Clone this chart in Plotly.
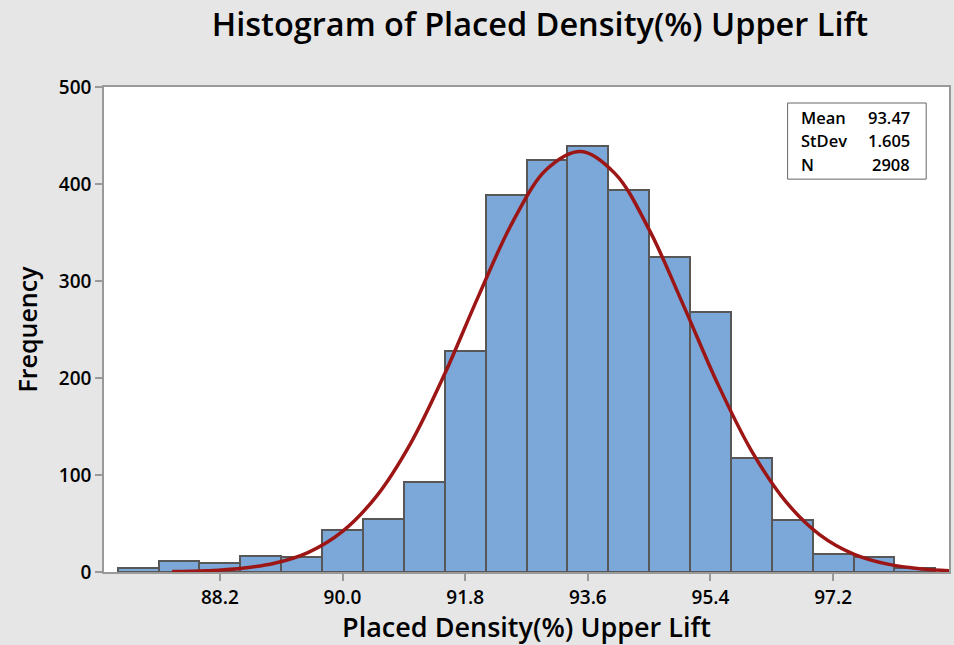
import plotly.graph_objects as go

# histogram bins (centres, width 0.6) and counts
bin_centers = [87.0, 87.6, 88.2, 88.8, 89.4, 90.0, 90.6, 91.2, 91.8, 92.4,
               93.0, 93.6, 94.2, 94.8, 95.4, 96.0, 96.6, 97.2, 97.8, 98.4]
counts = [4, 11, 9, 17, 15, 43, 55, 93, 228, 389,
          425, 439, 394, 325, 268, 118, 54, 19, 15, 4]

# fitted normal curve, read at 0.5 steps
curve_x = [87.5, 88.0, 88.5, 89.0, 89.5, 90.0, 90.5, 91.0, 91.5, 92.0, 92.5, 93.0,
           93.5, 94.0, 94.5, 95.0, 95.5, 96.0, 96.5, 97.0, 97.5, 98.0, 98.5, 99.0]
curve_y = [0.4, 1.3, 3.6, 9.0, 20.3, 41.9, 78.3, 132.7, 204.3, 285.2, 361.3, 415.5,
           433.6, 410.7, 352.9, 275.4, 194.9, 125.2, 73.0, 38.6, 18.5, 8.1, 3.2, 1.1]

x_ticks = [88.2, 90.0, 91.8, 93.6, 95.4, 97.2]
y_ticks = [0, 100, 200, 300, 400, 500]

stat_labels = ["Mean", "StDev", "N"]
stat_values = ["93.47", "1.605", "2908"]

font_family = "Open Sans, DejaVu Sans, sans-serif"

fig = go.Figure()
fig.add_trace(go.Bar(x=bin_centers, y=counts, width=0.6,
                     marker=dict(color="#7BA7D9", line=dict(color="#575757", width=2))))
fig.add_trace(go.Scatter(x=curve_x, y=curve_y, mode="lines",
                         line=dict(color="#9C1616", width=3.5, shape="spline")))

# stats box
fig.add_shape(type="rect", xref="paper", yref="paper",
              x0=0.809, x1=0.973, y0=0.810, y1=0.967,
              line=dict(color="#666666", width=1), fillcolor="white")
for i, (lab, val) in enumerate(zip(stat_labels, stat_values)):
    yy = 0.938 - i * 0.049
    fig.add_annotation(xref="paper", yref="paper", x=0.823, y=yy, text=lab,
                       showarrow=False, xanchor="left", yanchor="middle",
                       font=dict(family=font_family, size=16.5, color="black", weight=600))
    fig.add_annotation(xref="paper", yref="paper", x=0.956, y=yy, text=val,
                       showarrow=False, xanchor="right", yanchor="middle",
                       font=dict(family=font_family, size=16.5, color="black", weight=600))

fig.update_layout(
    width=954, height=645,
    margin=dict(l=104, r=3, t=87, b=73),
    paper_bgcolor="#E6E6E6",
    plot_bgcolor="white",
    showlegend=False,
    bargap=0,
    title=dict(text="Histogram of Placed Density(%) Upper Lift",
               x=0.566, xanchor="center", y=0.962, yanchor="middle",
               font=dict(family=font_family, size=32.5, color="black", weight=600)),
    font=dict(family=font_family, color="black"),
    xaxis=dict(range=[86.5, 98.9], tickvals=x_ticks, ticktext=[f"{v:.1f}" for v in x_ticks],
               ticks="outside", ticklen=7, tickcolor="#999999", tickwidth=1.5,
               showline=True, linecolor="#999999", linewidth=1.5, mirror=True,
               showgrid=False, zeroline=False,
               tickfont=dict(size=19, weight=600),
               title=dict(text="Placed Density(%) Upper Lift", standoff=9,
                          font=dict(size=27, weight=600))),
    yaxis=dict(range=[0, 500], tickvals=y_ticks,
               ticks="outside", ticklen=7, tickcolor="#999999", tickwidth=1.5,
               showline=True, linecolor="#999999", linewidth=1.5, mirror=True,
               showgrid=False, zeroline=False,
               tickfont=dict(size=19, weight=600),
               title=dict(text="Frequency", standoff=14,
                          font=dict(size=25, weight=600))),
)

fig.write_html("out.html", config={"displayModeBar": False},
               post_script="document.body.style.margin='0';")
